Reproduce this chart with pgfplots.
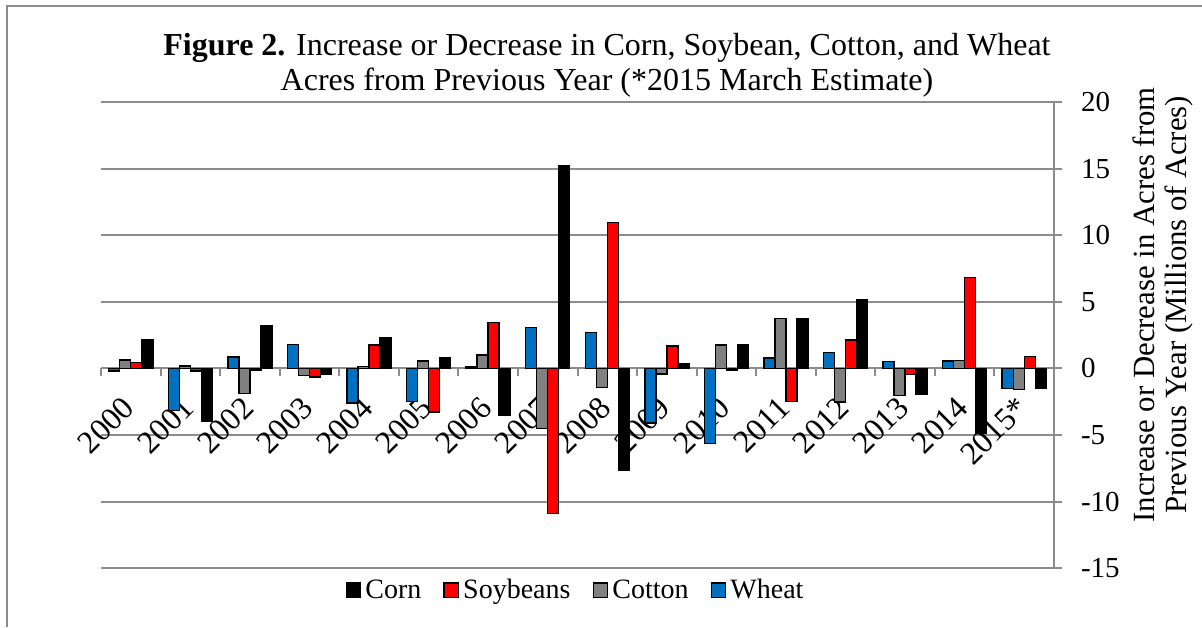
\documentclass[border=0pt]{standalone}
\usepackage{pgfplots}
\pgfplotsset{compat=1.18}
\usepackage{fontspec}
\setmainfont{Liberation Serif}
\definecolor{wheatc}{HTML}{0070C0}
\definecolor{soyc}{HTML}{FF0000}
\definecolor{cottonc}{HTML}{808080}
\definecolor{gridg}{HTML}{8C8C8C}
\pgfplotsset{sqlegend/.style={legend image code/.code={\draw[##1,draw=black,line width=0.7pt] (0pt,-3.6pt) rectangle (7.2pt,3.6pt);}}}
\begin{document}
\begin{tikzpicture}
\path[use as bounding box] (0pt,0pt) rectangle (601pt,313.5pt);
\draw[gridg, line width=1pt] (3.5pt,0pt) -- (3.5pt,310.5pt) -- (601pt,310.5pt);
\node[font=\fontsize{16}{17.5}\selectfont, align=center] at (303.5pt,281pt) {\textbf{Figure 2.} Increase or Decrease in Corn, Soybean, Cotton, and Wheat\\Acres from Previous Year (*2015 March Estimate)};
\begin{axis}[
 at={(50.5pt,29.4pt)}, anchor=south west, scale only axis, width=476.5pt, height=233pt,
 xmin=-0.5, xmax=15.5, ymin=-15, ymax=20,
 axis x line*=middle, axis y line*=right,
 axis line style={gridg, line width=1pt, -},
 ytick={-15,-10,...,20}, ymajorgrids, grid style={gridg, line width=1pt},
 xtick={0,...,15}, xticklabels={2000,2001,2002,2003,2004,2005,2006,2007,2008,2009,2010,2011,2012,2013,2014,2015*},
 minor xtick={-0.5,0.5,...,15.5},
 major x tick style={draw=none},
 tick style={gridg, line width=1pt},
 major tick length=4pt, minor tick length=4pt,
 tick align=outside,
 xticklabel style={xshift=1.5pt, yshift=-10.5pt, rotate=45, anchor=east, font=\fontsize{16}{18}\selectfont},
 yticklabel style={anchor=west, font=\fontsize{14.5}{16}\selectfont, xshift=6pt},
 /pgf/number format/assume math mode=true,
 ybar, bar width=0.185,
 ylabel={Increase or Decrease in Acres from\\Previous Year (Millions of Acres)},
 ylabel style={at={(axis description cs:1.1144,0.565)}, anchor=center, align=center, font=\fontsize{15.4}{16}\selectfont},
 legend style={at={(axis description cs:0.499,-0.0475)}, anchor=center, draw=none, legend columns=4, font=\fontsize{14}{16}\selectfont, /tikz/every even column/.append style={column sep=9pt}},
 reverse legend,
]
\addplot[fill=wheatc, draw=black, line width=0.7pt, bar shift=-0.2775, sqlegend] coordinates {(0,-0.2) (1,-3.17) (2,0.85) (3,1.78) (4,-2.6) (5,-2.46) (6,0.1) (7,3.07) (8,2.71) (9,-4.1) (10,-5.63) (11,0.78) (12,1.18) (13,0.53) (14,0.55) (15,-1.5)};
\addplot[fill=cottonc, draw=black, line width=0.7pt, bar shift=-0.0925, sqlegend] coordinates {(0,0.63) (1,0.2) (2,-1.9) (3,-0.53) (4,0.13) (5,0.55) (6,1.0) (7,-4.52) (8,-1.41) (9,-0.4) (10,1.76) (11,3.74) (12,-2.51) (13,-2.01) (14,0.6) (15,-1.58)};
\addplot[fill=soyc, draw=black, line width=0.7pt, bar shift=0.0925, sqlegend] coordinates {(0,0.45) (1,-0.2) (2,-0.12) (3,-0.63) (4,1.76) (5,-3.27) (6,3.44) (7,-10.9) (8,10.95) (9,1.68) (10,-0.1) (11,-2.46) (12,2.14) (13,-0.45) (14,6.83) (15,0.88)};
\addplot[fill=black, draw=black, line width=0.7pt, bar shift=0.2775, sqlegend] coordinates {(0,2.16) (1,-3.97) (2,3.19) (3,-0.4) (4,2.31) (5,0.8) (6,-3.52) (7,15.2) (8,-7.66) (9,0.38) (10,1.76) (11,3.72) (12,5.2) (13,-1.91) (14,-4.85) (15,-1.5)};
\legend{Wheat,Cotton,Soybeans,Corn}
\end{axis}
\end{tikzpicture}
\end{document}
